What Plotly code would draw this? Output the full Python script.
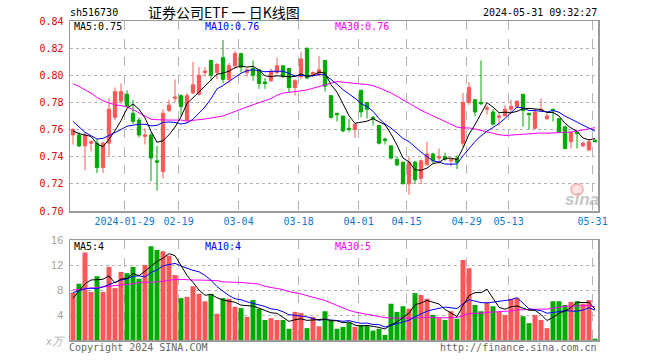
import plotly.graph_objects as go

# ---------------- data ----------------
dates = [
    "2024-01-16", "2024-01-17", "2024-01-18", "2024-01-19", "2024-01-22", "2024-01-23",
    "2024-01-24", "2024-01-25", "2024-01-26", "2024-01-29", "2024-01-30", "2024-01-31",
    "2024-02-01", "2024-02-02", "2024-02-05", "2024-02-06", "2024-02-07", "2024-02-08",
    "2024-02-19", "2024-02-20", "2024-02-21", "2024-02-22", "2024-02-23", "2024-02-26",
    "2024-02-27", "2024-02-28", "2024-02-29", "2024-03-01", "2024-03-04", "2024-03-05",
    "2024-03-06", "2024-03-07", "2024-03-08", "2024-03-11", "2024-03-12", "2024-03-13",
    "2024-03-14", "2024-03-15", "2024-03-18", "2024-03-19", "2024-03-20", "2024-03-21",
    "2024-03-22", "2024-03-25", "2024-03-26", "2024-03-27", "2024-03-28", "2024-03-29",
    "2024-04-01", "2024-04-02", "2024-04-03", "2024-04-08", "2024-04-09", "2024-04-10",
    "2024-04-11", "2024-04-12", "2024-04-15", "2024-04-16", "2024-04-17", "2024-04-18",
    "2024-04-19", "2024-04-22", "2024-04-23", "2024-04-24", "2024-04-25", "2024-04-26",
    "2024-04-29", "2024-04-30", "2024-05-06", "2024-05-07", "2024-05-08", "2024-05-09",
    "2024-05-10", "2024-05-13", "2024-05-14", "2024-05-15", "2024-05-16", "2024-05-17",
    "2024-05-20", "2024-05-21", "2024-05-22", "2024-05-23", "2024-05-24", "2024-05-27",
    "2024-05-28", "2024-05-29", "2024-05-30", "2024-05-31",
]

opens = [
    0.756, 0.756, 0.748, 0.750, 0.750, 0.732, 0.750, 0.769, 0.781, 0.786,
    0.772, 0.767, 0.755, 0.756, 0.737, 0.729, 0.774, 0.783, 0.785, 0.767,
    0.787, 0.786, 0.802, 0.811, 0.802, 0.813, 0.797, 0.807, 0.816, 0.802,
    0.805, 0.804, 0.795, 0.796, 0.802, 0.807, 0.805, 0.791, 0.799, 0.820,
    0.800, 0.800, 0.811, 0.785, 0.772, 0.770, 0.761, 0.760, 0.789, 0.780,
    0.769, 0.763, 0.753, 0.748, 0.738, 0.736, 0.720, 0.736, 0.724, 0.734,
    0.742, 0.739, 0.740, 0.737, 0.739, 0.750, 0.780, 0.782, 0.780, 0.775,
    0.773, 0.769, 0.770, 0.775, 0.777, 0.786, 0.772, 0.761, 0.774, 0.768,
    0.775, 0.768, 0.762, 0.751, 0.758, 0.748, 0.745, 0.752,
]
highs = [
    0.761, 0.758, 0.758, 0.752, 0.753, 0.751, 0.783, 0.791, 0.794, 0.789,
    0.782, 0.769, 0.761, 0.758, 0.748, 0.775, 0.782, 0.797, 0.786, 0.787,
    0.810, 0.806, 0.806, 0.811, 0.809, 0.826, 0.809, 0.818, 0.816, 0.805,
    0.811, 0.804, 0.798, 0.805, 0.813, 0.807, 0.805, 0.797, 0.817, 0.820,
    0.803, 0.814, 0.811, 0.785, 0.772, 0.770, 0.768, 0.764, 0.789, 0.780,
    0.770, 0.763, 0.754, 0.748, 0.740, 0.736, 0.740, 0.737, 0.738, 0.751,
    0.743, 0.746, 0.743, 0.738, 0.741, 0.787, 0.795, 0.782, 0.811, 0.778,
    0.775, 0.772, 0.778, 0.782, 0.781, 0.786, 0.772, 0.775, 0.783, 0.772,
    0.775, 0.768, 0.763, 0.758, 0.758, 0.751, 0.753, 0.753,
]
lows = [
    0.749, 0.747, 0.730, 0.744, 0.728, 0.728, 0.740, 0.767, 0.779, 0.777,
    0.764, 0.754, 0.749, 0.722, 0.715, 0.724, 0.773, 0.780, 0.770, 0.765,
    0.786, 0.785, 0.799, 0.796, 0.797, 0.794, 0.794, 0.805, 0.802, 0.799,
    0.796, 0.790, 0.790, 0.795, 0.801, 0.798, 0.787, 0.785, 0.797, 0.797,
    0.799, 0.800, 0.788, 0.768, 0.766, 0.758, 0.758, 0.754, 0.769, 0.768,
    0.763, 0.749, 0.749, 0.738, 0.733, 0.720, 0.712, 0.720, 0.720, 0.734,
    0.735, 0.735, 0.737, 0.733, 0.731, 0.747, 0.778, 0.770, 0.778, 0.771,
    0.763, 0.763, 0.770, 0.772, 0.776, 0.762, 0.760, 0.760, 0.773, 0.767,
    0.766, 0.758, 0.746, 0.746, 0.746, 0.747, 0.744, 0.751,
]
closes = [
    0.760, 0.748, 0.756, 0.751, 0.732, 0.750, 0.775, 0.788, 0.788, 0.777,
    0.766, 0.756, 0.756, 0.739, 0.736, 0.772, 0.778, 0.784, 0.777, 0.785,
    0.793, 0.800, 0.803, 0.800, 0.808, 0.797, 0.807, 0.816, 0.806, 0.804,
    0.800, 0.794, 0.794, 0.803, 0.807, 0.799, 0.791, 0.796, 0.812, 0.798,
    0.802, 0.804, 0.792, 0.769, 0.771, 0.759, 0.760, 0.764, 0.773, 0.775,
    0.768, 0.750, 0.752, 0.739, 0.734, 0.720, 0.736, 0.723, 0.737, 0.742,
    0.737, 0.740, 0.738, 0.738, 0.736, 0.780, 0.791, 0.773, 0.779, 0.776,
    0.764, 0.770, 0.775, 0.777, 0.781, 0.774, 0.771, 0.773, 0.775, 0.770,
    0.774, 0.758, 0.746, 0.758, 0.757, 0.750, 0.751, 0.751,
]
# volume, in units of 万 (as labelled on the chart)
volumes = [
    7.6, 9.0, 14.0, 7.7, 10.2, 7.7, 11.7, 8.3, 10.9, 10.7,
    11.7, 9.8, 12.0, 15.0, 14.4, 14.2, 13.5, 10.4, 6.7, 6.9,
    8.6, 7.4, 6.2, 7.4, 4.2, 6.7, 6.6, 5.3, 5.1, 3.7,
    6.4, 5.0, 3.2, 3.5, 3.2, 3.2, 1.8, 4.5, 4.3, 1.9,
    3.7, 2.2, 4.6, 3.1, 1.8, 2.1, 2.8, 2.1, 2.4, 2.3,
    1.5, 1.8, 0.8, 5.8, 4.5, 5.4, 5.0, 7.5, 7.2, 6.6,
    4.0, 3.5, 3.2, 4.6, 3.4, 12.8, 11.5, 5.6, 4.6, 6.1,
    5.4, 4.5, 4.0, 6.6, 6.7, 3.8, 2.7, 4.0, 3.2, 1.9,
    6.2, 6.2, 5.6, 6.1, 6.2, 5.8, 6.4, 0.2,
]

# moving-average values at the left edge of the window
# (they depend on trading days before the visible range)
ma5_head = [0.759, 0.757, 0.756, 0.755]
ma10_head = [0.766, 0.762, 0.758, 0.7555, 0.753, 0.7535, 0.7555, 0.758, 0.760]
ma30_head = [
    0.7937, 0.7918, 0.7893, 0.7869, 0.7837, 0.7813, 0.7796, 0.7783, 0.7776, 0.7766,
    0.7747, 0.7722, 0.7698, 0.7676, 0.7673, 0.767, 0.767, 0.767, 0.767, 0.7663,
    0.7666, 0.7673, 0.7678, 0.7685, 0.7693, 0.770, 0.7717, 0.7734, 0.7754,
]
vma5_head = [6.7, 7.8, 9.0, 9.6]
vma10_head = [7.6, 7.9, 8.2, 8.3, 8.2, 8.5, 8.9, 9.3, 9.6]
vma30_head = [
    8.0, 8.1, 8.2, 8.3, 8.35, 8.4, 8.5, 8.6, 8.7, 8.8,
    9.0, 9.2, 9.2, 9.3, 9.3, 9.4, 9.6, 9.7, 9.7, 9.6,
    9.6, 9.6, 9.6, 9.5, 9.5, 9.3, 9.3, 9.2, 9.2,
]

tick_dates = ["2024-01-29", "2024-02-19", "2024-03-04", "2024-03-18", "2024-04-01",
              "2024-04-15", "2024-04-29", "2024-05-13", "2024-05-31"]
tick_text = ["2024-01-29", "02-19", "03-04", "03-18", "04-01",
             "04-15", "04-29", "05-13", "05-31"]
price_ticks = [0.70, 0.72, 0.74, 0.76, 0.78, 0.80, 0.82, 0.84]
vol_ticks = [4, 8, 12, 16]


# ---------------- helpers ----------------
def moving_avg(vals, n, head):
    out = []
    for i in range(len(vals)):
        if i < n - 1:
            out.append(head[i])
        else:
            out.append(sum(vals[i - n + 1:i + 1]) / n)
    return out


W, H = 660, 360


def px(x):
    return x / W


def py(y):
    return 1 - y / H


RED = "#fa5858"
GREEN = "#00a800"
MONO = "DejaVu Sans Mono"
GRID = "#b4b4b4"
FRAME = "#9a9a9a"

n = len(dates)
xi = list(range(n))
ma5 = moving_avg(closes, 5, ma5_head)
ma10 = moving_avg(closes, 10, ma10_head)
ma30 = moving_avg(closes, 30, ma30_head)
vma5 = moving_avg(volumes, 5, vma5_head)
vma10 = moving_avg(volumes, 10, vma10_head)
vma30 = moving_avg(volumes, 30, vma30_head)
vol_colors = [RED if c > o else GREEN for o, c in zip(opens, closes)]

TICK_SHIFT = -0.4  # the chart draws date grid lines at the left side of a day's slot
tickvals = [dates.index(d) + TICK_SHIFT for d in tick_dates]

fig = go.Figure()

fig.add_trace(go.Candlestick(
    x=xi, open=opens, high=highs, low=lows, close=closes,
    increasing=dict(line=dict(color=RED, width=1), fillcolor=RED),
    decreasing=dict(line=dict(color=GREEN, width=1), fillcolor=GREEN),
    whiskerwidth=0, xaxis="x", yaxis="y", showlegend=False,
))
for vals, col in [(ma30, "#ff00ff"), (ma10, "#0000ff"), (ma5, "#000000")]:
    fig.add_trace(go.Scatter(x=xi, y=vals, mode="lines", line=dict(color=col, width=1),
                             xaxis="x", yaxis="y", showlegend=False))

fig.add_trace(go.Bar(x=xi, y=volumes, marker=dict(color=vol_colors, line=dict(width=0)),
                     xaxis="x2", yaxis="y2", showlegend=False))
for vals, col in [(vma30, "#ff00ff"), (vma10, "#0000ff"), (vma5, "#000000")]:
    fig.add_trace(go.Scatter(x=xi, y=vals, mode="lines", line=dict(color=col, width=1),
                             xaxis="x2", yaxis="y2", showlegend=False))

common_x = dict(
    range=[-0.5, n - 0.5], tickvals=tickvals, showgrid=True, gridcolor=GRID,
    griddash="dash", gridwidth=1, zeroline=False, showline=True, mirror=True,
    linecolor=FRAME, linewidth=1.5, ticks="", fixedrange=True, automargin=False,
)
common_y = dict(
    showgrid=True, gridcolor=GRID, griddash="dot", zeroline=False,
    showline=True, mirror=True, linecolor=FRAME, linewidth=1.5,
    ticks="", ticklabelstandoff=3, fixedrange=True, automargin=False,
)
fig.update_layout(
    width=W, height=H, autosize=False, margin=dict(l=0, r=0, t=0, b=0, pad=0),
    paper_bgcolor="white", plot_bgcolor="white", showlegend=False,
    bargap=0.17, boxgap=0.22, hovermode=False,
    xaxis=dict(domain=[px(70), px(598)], anchor="y", ticktext=tick_text,
               tickfont=dict(family=MONO, size=10, color="#0a7ad2"),
               rangeslider=dict(visible=False), **common_x),
    xaxis2=dict(domain=[px(70), px(598)], anchor="y2", showticklabels=False, **common_x),
    yaxis=dict(domain=[py(211), py(21)], range=[0.70, 0.84], tickvals=price_ticks,
               tickformat=".2f", tickfont=dict(family=MONO, size=10, color="#e60000"),
               **common_y),
    yaxis2=dict(domain=[py(340), py(240)], range=[0, 16], tickvals=vol_ticks,
                tickfont=dict(family="Liberation Sans", size=11, color="#a0a0a0"),
                **common_y),
)


def label(text, x, y, color="#000", anchor="left", size=10, family=MONO, **kw):
    fig.add_annotation(text=text, x=px(x), y=py(y), xref="paper", yref="paper",
                       xanchor=anchor, yanchor="middle", showarrow=False, borderpad=0,
                       font=dict(family=family, size=size, color=color), **kw)


label("sh516730", 69, 13)
label("证券公司ETF 一 日K线图", 224, 12.5, anchor="center", size=14,
      family="Noto Sans CJK SC")
label("2024-05-31 09:32:27", 598, 13, anchor="right")
label(f"MA5:{ma5[-1]:.2f}", 73, 27)
label(f"MA10:{ma10[-1]:.2f}", 204, 27, color="#0000ff")
label(f"MA30:{ma30[-1]:.2f}", 334, 27, color="#ff00ff")
label(f"MA5:{int(vma5[-1])}", 73, 246)
label(f"MA10:{int(vma10[-1])}", 204, 246, color="#0000ff")
label(f"MA30:{int(vma30[-1])}", 334, 246, color="#ff00ff")
label("<i>x万</i>", 66, 341, color="#b0b0b0", anchor="right", size=11,
      family="Liberation Sans")
label("Copyright 2024 SINA.COM", 68, 347, color="#666666")
label("http://finance.sina.com.cn", 598, 347, color="#666666", anchor="right")
label("<b><i>sina</i></b>", 582, 199, color="rgba(150,150,150,0.55)", anchor="center",
      size=17, family="Liberation Sans")
fig.add_shape(type="circle", xref="paper", yref="paper",
              x0=px(571), x1=px(583), y0=py(195), y1=py(184),
              line=dict(color="rgba(235,120,120,0.45)", width=2),
              fillcolor="rgba(245,170,170,0.3)")

# the page's default body margin would shift the chart; remove it
fig.write_html("out.html", config={"displayModeBar": False, "staticPlot": True},
               post_script="document.body.style.margin='0px';"
                           "document.body.style.overflow='hidden';")
